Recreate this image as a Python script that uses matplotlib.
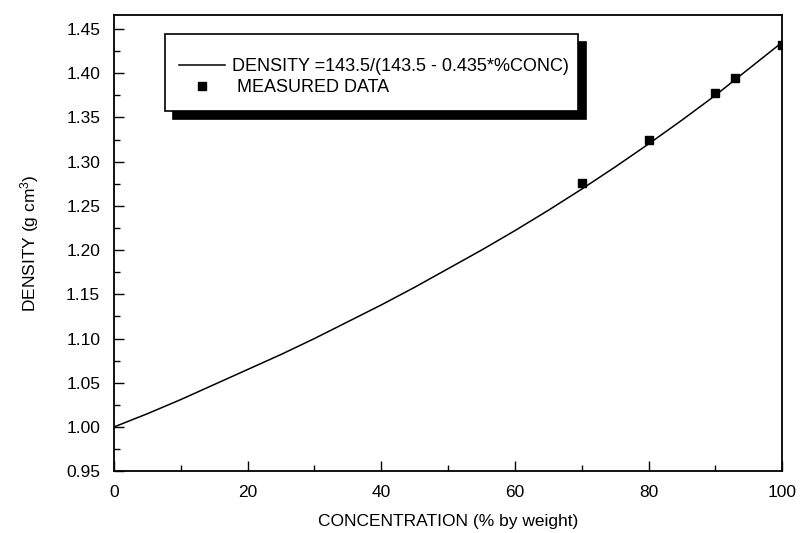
import matplotlib
matplotlib.use('Agg')
import matplotlib.pyplot as plt
from matplotlib.ticker import MultipleLocator

plt.rcParams['font.family'] = ['Liberation Sans', 'DejaVu Sans']
plt.rcParams['mathtext.default'] = 'regular'

# fitted curve
curve_conc = [0, 5, 10, 15, 20, 25, 30, 35, 40, 45, 50,
              55, 60, 65, 70, 75, 80, 85, 90, 95, 100]
curve_density = [1.000, 1.015, 1.031, 1.048, 1.065, 1.082, 1.100, 1.119, 1.138, 1.158, 1.179,
                 1.200, 1.222, 1.245, 1.269, 1.294, 1.320, 1.347, 1.375, 1.405, 1.435]

# measured points
meas_conc = [70, 80, 90, 93, 100]
meas_density = [1.276, 1.325, 1.378, 1.395, 1.432]

fig = plt.figure(figsize=(8.03, 5.33), dpi=100)
ax = fig.add_axes([0.142, 0.116, 0.832, 0.856])

ax.plot(curve_conc, curve_density, color='black', lw=1.1,
        label='DENSITY =143.5/(143.5 - 0.435*%CONC)')
ax.plot(meas_conc, meas_density, 's', color='black', ms=5.8, ls='none',
        label=' MEASURED DATA')

ax.set_xlim(0, 100)
ax.set_ylim(0.95, 1.466)
ax.xaxis.set_major_locator(MultipleLocator(20))
ax.xaxis.set_minor_locator(MultipleLocator(10))
ax.yaxis.set_major_locator(MultipleLocator(0.05))
ax.yaxis.set_minor_locator(MultipleLocator(0.025))
ax.yaxis.set_major_formatter(plt.FormatStrFormatter('%.2f'))

ax.tick_params(which='both', direction='in', top=False, right=False, labelsize=12.5, width=1)
ax.tick_params(which='major', length=7, pad=10)
ax.tick_params(which='minor', length=4)
for s in ax.spines.values():
    s.set_linewidth(1.3)

ax.set_xlabel('CONCENTRATION (% by weight)', fontsize=12.5, labelpad=10)
ax.set_ylabel('DENSITY (g cm$^3$)', fontsize=12.5, labelpad=18)

leg = ax.legend(loc='upper left', bbox_to_anchor=(165 / 803, 1 - 34 / 533, 413 / 803, 0),
                bbox_transform=fig.transFigure, mode='expand', borderaxespad=0,
                fancybox=False, edgecolor='black', framealpha=1, fontsize=13,
                handlelength=2.5, borderpad=0.8, labelspacing=0.25, handletextpad=0.4,
                title=' ', title_fontsize=4,
                shadow={'color': 'black', 'alpha': 1, 'ox': 6, 'oy': -6})
leg.get_frame().set_linewidth(1.2)

fig.savefig('out.png', dpi=100)
